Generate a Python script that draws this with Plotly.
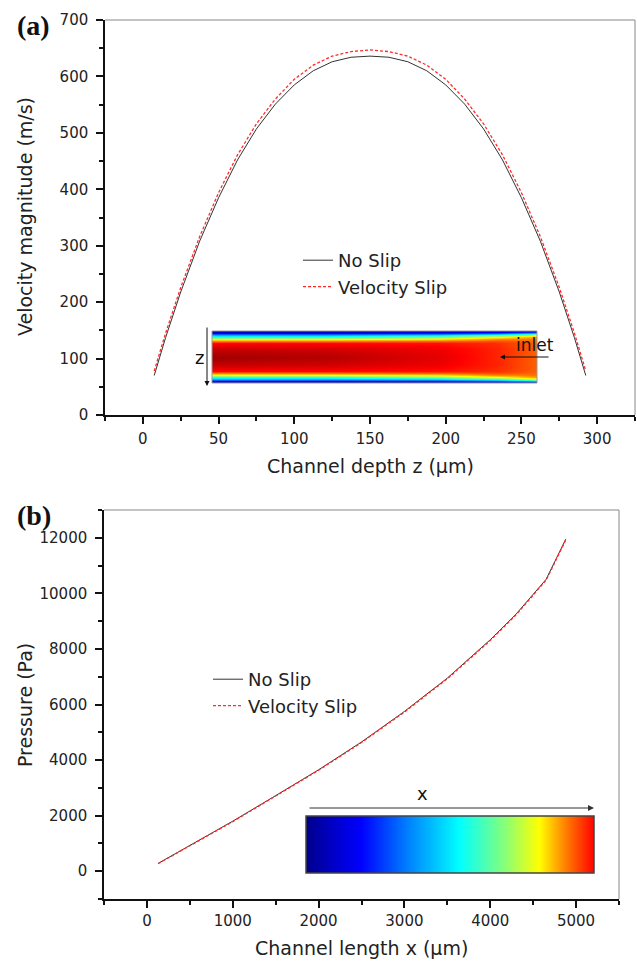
import plotly.graph_objects as go

W, H = 637, 961

# ---------------- data: panel (a) ----------------
depth_z = [7.5, 15, 25, 37.5, 50, 62.5, 75, 87.5, 100, 112.5, 125, 137.5, 150,
           162.5, 175, 187.5, 200, 212.5, 225, 237.5, 250, 262.5, 275, 285, 292.5]
vel_noslip = [70, 137, 218, 308, 385, 452, 507, 551, 585, 610, 626, 634, 636,
              634, 626, 610, 585, 551, 507, 452, 385, 308, 218, 137, 70]
vel_slip = [78, 145, 226, 316, 394, 461, 516, 560, 595, 620, 636, 644, 647,
            644, 636, 620, 595, 560, 516, 461, 394, 316, 226, 145, 78]

# ---------------- data: panel (b) ----------------
length_x = [130, 500, 1000, 1500, 2000, 2500, 3000, 3500, 4000, 4300, 4650, 4880]
p_noslip = [280, 930, 1800, 2720, 3650, 4650, 5750, 6950, 8330, 9250, 10500, 11950]
p_slip = [270, 918, 1785, 2705, 3632, 4630, 5728, 6925, 8305, 9225, 10470, 11920]

# ---------------- inset (a): velocity field (jet level, 0..1) ----------------
inset_a_cols = [0.0, 0.35, 0.7, 0.88, 1.0]
inset_a_rows = [0.0, 0.03, 0.07, 0.11, 0.15, 0.19, 0.24, 0.35, 0.5,
                0.65, 0.76, 0.81, 0.85, 0.89, 0.93, 0.97, 1.0]
inset_a_vals = [
    [0.02, 0.02, 0.03, 0.03, 0.05],
    [0.12, 0.12, 0.15, 0.20, 0.30],
    [0.30, 0.30, 0.35, 0.45, 0.60],
    [0.42, 0.43, 0.50, 0.62, 0.72],
    [0.60, 0.61, 0.65, 0.74, 0.76],
    [0.75, 0.76, 0.78, 0.80, 0.77],
    [0.87, 0.87, 0.86, 0.83, 0.78],
    [0.93, 0.92, 0.89, 0.84, 0.78],
    [0.97, 0.95, 0.90, 0.84, 0.78],
    [0.93, 0.92, 0.89, 0.84, 0.78],
    [0.87, 0.87, 0.86, 0.83, 0.78],
    [0.75, 0.76, 0.78, 0.80, 0.77],
    [0.60, 0.61, 0.65, 0.74, 0.76],
    [0.42, 0.43, 0.50, 0.62, 0.72],
    [0.30, 0.30, 0.35, 0.45, 0.60],
    [0.12, 0.12, 0.15, 0.20, 0.30],
    [0.02, 0.02, 0.03, 0.03, 0.05],
]

# ---------------- inset (b): pressure field (jet level, 0..1) ----------------
inset_b_cols = [0.0, 0.1, 0.19, 0.35, 0.53, 0.68, 0.81, 0.9, 1.0]
inset_b_vals = [0.0, 0.07, 0.125, 0.25, 0.375, 0.5, 0.625, 0.75, 0.875]

jet = [[0.0, "rgb(0,0,140)"], [0.125, "rgb(0,0,255)"], [0.375, "rgb(0,255,255)"],
       [0.625, "rgb(255,255,0)"], [0.875, "rgb(255,0,0)"], [1.0, "rgb(128,0,0)"]]

FONT = "DejaVu Sans"
TXT = "#222222"


def fx(p):
    return p / W


def fy(p):
    return 1 - p / H


fig = go.Figure()

fig.add_trace(go.Scatter(x=depth_z, y=vel_noslip, mode="lines", name="No Slip",
                         line=dict(color="#333333", width=1), xaxis="x", yaxis="y",
                         legend="legend"))
fig.add_trace(go.Scatter(x=depth_z, y=vel_slip, mode="lines", name="Velocity Slip",
                         line=dict(color="#ff2a2a", width=1.3, dash="3px,2px"),
                         xaxis="x", yaxis="y", legend="legend"))
fig.add_trace(go.Scatter(x=length_x, y=p_noslip, mode="lines", name="No Slip",
                         line=dict(color="#333333", width=1), xaxis="x2", yaxis="y2",
                         legend="legend2"))
fig.add_trace(go.Scatter(x=length_x, y=p_slip, mode="lines", name="Velocity Slip",
                         line=dict(color="#ff2a2a", width=1.3, dash="3px,2px"),
                         xaxis="x2", yaxis="y2", legend="legend2"))

fig.add_trace(go.Heatmap(x=inset_a_cols, y=inset_a_rows, z=inset_a_vals,
                         colorscale=jet, zmin=0, zmax=1, zsmooth="best",
                         showscale=False, hoverinfo="skip", xaxis="x3", yaxis="y3"))
fig.add_trace(go.Heatmap(x=inset_b_cols, y=[0, 1], z=[inset_b_vals, inset_b_vals],
                         colorscale=jet, zmin=0, zmax=1, zsmooth="best",
                         showscale=False, hoverinfo="skip", xaxis="x4", yaxis="y4"))

tickfont = dict(family=FONT, size=15, color=TXT)


def main_axis(domain, rng, dtick, mdtick, anchor, standoff):
    return dict(domain=domain, range=rng, anchor=anchor, dtick=dtick, tick0=0,
                ticks="outside", ticklen=7, tickwidth=1.5, tickcolor="#111",
                minor=dict(ticks="outside", ticklen=4, tickwidth=1.5, tickcolor="#111",
                           dtick=mdtick, tick0=0),
                showline=True, linecolor="#111", linewidth=1.5,
                showgrid=False, zeroline=False, tickfont=tickfont,
                ticklabelstandoff=standoff,
                tickformat="d", fixedrange=True, automargin=False)


fig.update_layout(
    width=W, height=H,
    margin=dict(l=0, r=0, t=0, b=0, autoexpand=False),
    paper_bgcolor="white", plot_bgcolor="white",
    font=dict(family=FONT, color=TXT),
    xaxis=main_axis([fx(105), fx(635)], [-25, 325], 50, 25, "y", 2),
    yaxis=main_axis([fy(415), fy(20)], [0, 700], 100, 50, "x", 5),
    xaxis2=main_axis([fx(104), fx(619)], [-500, 5500], 1000, 500, "y2", 0),
    yaxis2=main_axis([fy(899), fy(510)], [-1000, 13000], 2000, 1000, "x2", 5),
    xaxis3=dict(domain=[fx(212), fx(537)], range=[0, 1], anchor="y3", visible=False,
                automargin=False),
    yaxis3=dict(domain=[fy(383), fy(331)], range=[1, 0], anchor="x3", visible=False,
                automargin=False),
    xaxis4=dict(domain=[fx(306), fx(594)], range=[0, 1], anchor="y4", visible=False,
                automargin=False),
    yaxis4=dict(domain=[fy(873), fy(816)], range=[0, 1], anchor="x4", visible=False,
                automargin=False),
    legend=dict(x=fx(298), y=fy(242), xanchor="left", yanchor="top",
                bgcolor="rgba(0,0,0,0)", font=dict(family=FONT, size=18, color=TXT),
                tracegroupgap=0),
    legend2=dict(x=fx(208), y=fy(661), xanchor="left", yanchor="top",
                 bgcolor="rgba(0,0,0,0)", font=dict(family=FONT, size=18, color=TXT),
                 tracegroupgap=0),
    showlegend=True,
)

shapes = []
for xr, yr in (("x", "y"), ("x2", "y2")):
    shapes.append(dict(type="line", xref=f"{xr} domain", yref=f"{yr} domain",
                       x0=0, x1=1, y0=1, y1=1, line=dict(color="#888", width=1)))
    shapes.append(dict(type="line", xref=f"{xr} domain", yref=f"{yr} domain",
                       x0=1, x1=1, y0=0, y1=1, line=dict(color="#888", width=1)))
shapes.append(dict(type="rect", xref="x3 domain", yref="y3 domain", x0=0, x1=1, y0=0, y1=1,
                   line=dict(color="#999", width=1)))
shapes.append(dict(type="rect", xref="x4 domain", yref="y4 domain", x0=0, x1=1, y0=0, y1=1,
                   line=dict(color="#444", width=1.5)))
fig.update_layout(shapes=shapes)

title_font = dict(family=FONT, size=19, color=TXT)
ann = [
    dict(text="<b>(a)</b>", x=fx(15), y=fy(25), xanchor="left", yanchor="middle",
         font=dict(family="Liberation Serif", size=28, color="#111")),
    dict(text="<b>(b)</b>", x=fx(15), y=fy(515), xanchor="left", yanchor="middle",
         font=dict(family="Liberation Serif", size=28, color="#111")),
    dict(text="Velocity magnitude (m/s)", x=fx(25), y=fy(217), textangle=-90,
         xanchor="center", yanchor="middle", font=title_font),
    dict(text="Pressure (Pa)", x=fx(25), y=fy(705), textangle=-90,
         xanchor="center", yanchor="middle", font=title_font),
    dict(text="Channel depth z (μm)", x=fx(370), y=fy(466),
         xanchor="center", yanchor="middle", font=title_font),
    dict(text="Channel length x (μm)", x=fx(361), y=fy(948),
         xanchor="center", yanchor="middle", font=title_font),
    dict(text="z", x=fx(199), y=fy(357), xanchor="center", yanchor="middle",
         font=dict(family=FONT, size=18, color="#111")),
    dict(text="inlet", x=fx(535), y=fy(345), xanchor="center", yanchor="middle",
         font=dict(family=FONT, size=17, color="#111")),
    dict(text="x", x=fx(422), y=fy(793), xanchor="center", yanchor="middle",
         font=dict(family=FONT, size=18, color="#111")),
    # arrows
    dict(text="", x=fx(207), y=fy(386), showarrow=True, ax=0, ay=-60,
         arrowhead=2, arrowsize=1, arrowwidth=1, arrowcolor="#111"),
    dict(text="", x=fx(500), y=fy(357), showarrow=True, ax=50, ay=0,
         arrowhead=2, arrowsize=1, arrowwidth=1, arrowcolor="#111"),
    dict(text="", x=fx(594), y=fy(808), showarrow=True, ax=-286, ay=0,
         arrowhead=2, arrowsize=1, arrowwidth=1.2, arrowcolor="#333"),
]
for a in ann:
    a.setdefault("xref", "paper")
    a.setdefault("yref", "paper")
    a.setdefault("showarrow", False)
fig.update_layout(annotations=ann)

# remove the browser's default 8px page margin so the figure sits at (0, 0)
fig.write_html(
    "out.html",
    config={"displayModeBar": False},
    post_script="document.body.style.margin='0';document.body.style.overflow='hidden';",
)
